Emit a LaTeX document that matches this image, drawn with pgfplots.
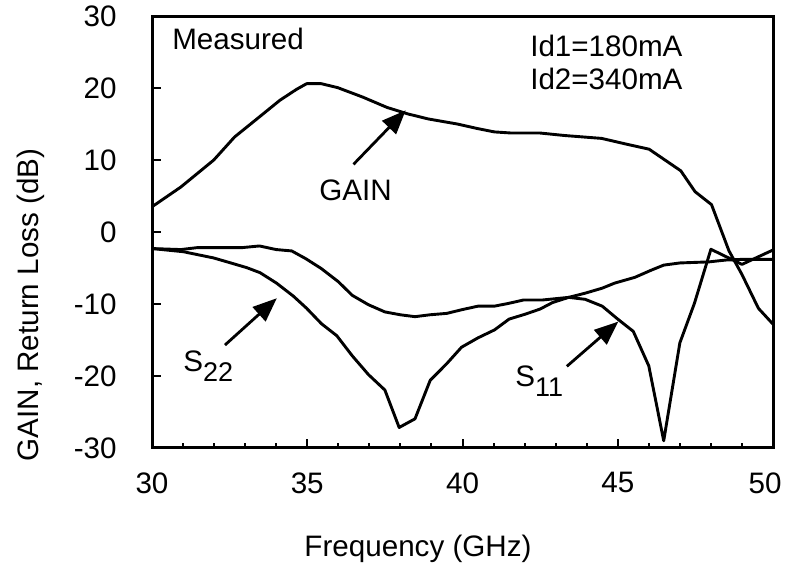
\documentclass[border=0pt]{standalone}
\usepackage{fontspec}
\setmainfont{Liberation Sans}
\usepackage{pgfplots}
\pgfplotsset{compat=1.18}
\usetikzlibrary{arrows.meta}

\pgfplotstableread{
f v
30 3.5
30.93 6.25
31.99 10.0
32.66 13.2
33.32 15.5
34.12 18.3
34.65 19.8
34.98 20.6
35.45 20.6
35.98 20.05
36.78 18.75
37.57 17.3
38.24 16.4
38.9 15.7
39.83 15.0
40.5 14.35
41.03 13.9
41.56 13.75
42.49 13.75
43.29 13.4
44.48 13.0
45.28 12.2
46.01 11.5
47.03 8.5
47.49 5.6
48.02 3.8
48.58 -2.6
49.0 -5.9
49.53 -10.6
50 -12.8
}\gain

\pgfplotstableread{
f v
30 -2.3
30.93 -2.44
31.46 -2.17
32.9 -2.17
33.46 -1.94
34.0 -2.44
34.5 -2.63
34.95 -3.7
35.45 -5.07
36.0 -6.9
36.45 -8.8
36.97 -10.1
37.5 -11.1
38.0 -11.5
38.47 -11.76
38.95 -11.5
39.5 -11.3
39.97 -10.8
40.5 -10.3
41.03 -10.3
41.5 -9.9
41.96 -9.45
42.56 -9.45
43.42 -9.08
43.95 -9.35
44.5 -10.3
45.0 -12.1
45.5 -13.8
46.0 -18.6
46.48 -29.0
47.0 -15.4
47.47 -9.9
48.0 -2.4
49.0 -4.5
50.0 -2.5
}\sone

\pgfplotstableread{
f v
30 -2.3
31.01 -2.74
31.98 -3.6
32.46 -4.2
33.05 -4.95
33.48 -5.65
34.01 -7.1
34.55 -8.9
34.98 -10.6
35.46 -12.75
35.95 -14.4
36.45 -17.2
36.97 -19.8
37.5 -21.95
37.96 -27.15
38.47 -25.95
38.96 -20.6
39.49 -18.3
39.97 -16.0
40.5 -14.7
41.03 -13.6
41.5 -12.1
42.03 -11.4
42.5 -10.7
42.9 -9.8
43.42 -9.08
43.95 -8.5
44.5 -7.8
44.9 -7.1
45.55 -6.3
46.08 -5.3
46.48 -4.6
47.0 -4.3
47.94 -4.15
48.47 -3.9
49.0 -3.8
49.5 -3.8
50 -3.8
}\stwo

\newcommand{\lbl}{\fontsize{14.8}{17.8}\selectfont}

\begin{document}
\lbl
\begin{tikzpicture}
\useasboundingbox (0,0) rectangle (393pt,282.5pt);
\begin{axis}[
  at={(76pt,58.5pt)}, anchor=south west,
  width=310.5pt, height=216pt, scale only axis,
  xmin=30, xmax=50, ymin=-30, ymax=30,
  xtick={30,35,40,45,50}, ytick={-30,-20,-10,0,10,20,30},
  xticklabels={30,35,40,45,{\hspace*{-8pt}50}},
  minor x tick num=4,
  tick align=inside, tick pos=left,
  major tick length=4.65pt, minor tick length=2.6pt,
  every tick/.style={black, line width=1pt},
  axis line style={line width=1.5pt},
  /pgf/number format/assume math mode=true,
  tick label style={font=\lbl},
  xticklabel style={inner sep=0pt, anchor=north, yshift=-12pt},
  yticklabel style={inner sep=0pt, anchor=east, xshift=-17.5pt},
  xlabel={Frequency (GHz)},
  ylabel={GAIN, Return Loss (dB)},
  xlabel style={font=\lbl, at={(axis description cs:0.4283,-0.2523)}, anchor=base, inner sep=0pt},
  ylabel style={font=\lbl, at={(axis description cs:-0.1828,0.331)}, anchor=base, inner sep=0pt},
]
\addplot[black, line width=1.45pt, line join=round, mark=none] table[x=f,y=v] {\gain};
\addplot[black, line width=1.45pt, line join=round, mark=none] table[x=f,y=v] {\sone};
\addplot[black, line width=1.45pt, line join=round, mark=none] table[x=f,y=v] {\stwo};

\node[anchor=base west, inner sep=0pt, font=\lbl] at (axis cs:30.64,25.28) {Measured};
\node[anchor=base west, inner sep=0pt, font=\lbl] at (axis cs:42.17,24.31) {Id1=180mA};
\node[anchor=base west, inner sep=0pt, font=\lbl] at (axis cs:42.17,19.86) {Id2=340mA};
\node[anchor=base west, inner sep=0pt, font=\lbl] at (axis cs:35.38,4.44) {GAIN};
\node[anchor=base west, inner sep=0pt, font=\lbl] at (axis cs:31.0,-19.44) {S\raisebox{-5pt}{\fontsize{13.5}{16}\selectfont 22}};
\node[anchor=base west, inner sep=0pt, font=\lbl] at (axis cs:41.69,-21.39) {S\raisebox{-5pt}{\fontsize{13.5}{16}\selectfont 11}};

\draw[line width=1.4pt, -{Triangle[length=12pt,width=9.5pt]}] (axis cs:36.49,9.4) -- (axis cs:38.17,16.9);
\draw[line width=1.4pt, -{Triangle[length=12pt,width=9.5pt]}] (axis cs:32.35,-15.7) -- (axis cs:34.02,-9.2);
\draw[line width=1.4pt, -{Triangle[length=12pt,width=9.5pt]}] (axis cs:43.36,-18.66) -- (axis cs:45.02,-12.44);
\end{axis}
\end{tikzpicture}
\end{document}
